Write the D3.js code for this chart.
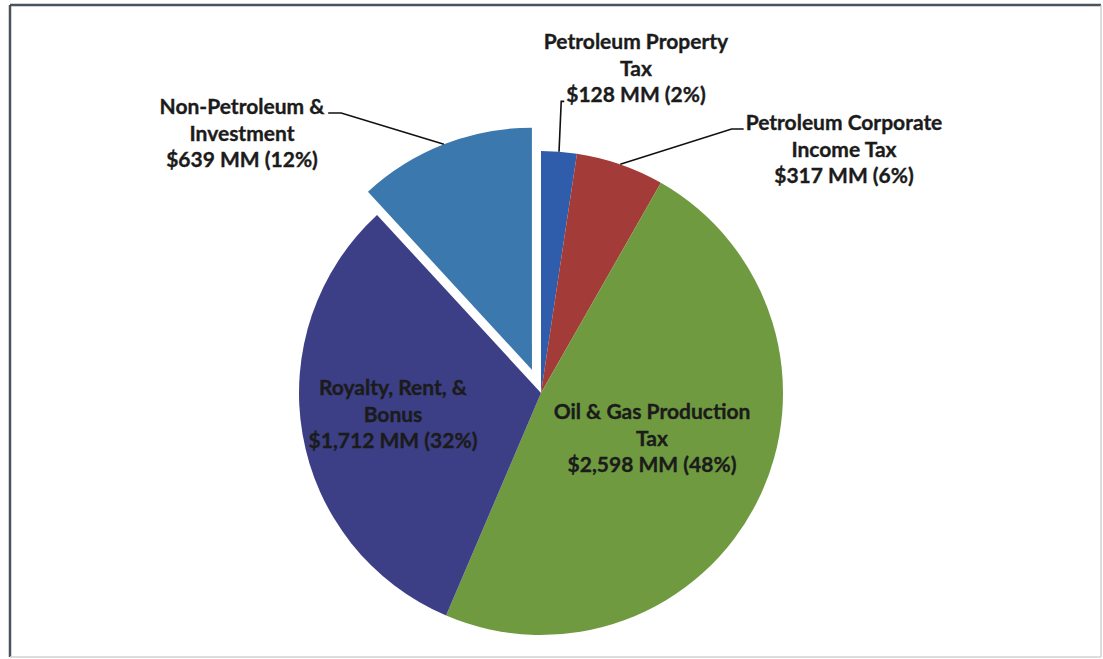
<!DOCTYPE html>
<html>
<head>
<meta charset="utf-8">
<script src="https://cdn.jsdelivr.net/npm/d3@7"></script>
<style>
  html, body { margin: 0; padding: 0; background: #fff; }
  svg { display: block; }
  text { font-family: "Lato", "Open Sans", sans-serif; font-weight: 700; fill: #1b1b1b;
         stroke: #1b1b1b; stroke-width: 0.35px; }
</style>
</head>
<body>
<svg id="chart" width="1103" height="659"></svg>
<script>
// Revenue sources, $ millions, clockwise from 12 o'clock
const categories = [
  "Petroleum Property Tax",
  "Petroleum Corporate Income Tax",
  "Oil & Gas Production Tax",
  "Royalty, Rent, & Bonus",
  "Non-Petroleum & Investment"
];
const nameLines = [
  ["Petroleum Property", "Tax"],
  ["Petroleum Corporate", "Income Tax"],
  ["Oil & Gas Production", "Tax"],
  ["Royalty, Rent, &", "Bonus"],
  ["Non-Petroleum &", "Investment"]
];
const values = [128, 317, 2598, 1712, 639];
const sliceColors = ["#2f5dab", "#a33b38", "#6f9a40", "#3c3f85", "#3a78ad"];
const explodedIndex = 4;

// label placement: centre x, first baseline y, leader side
const labelLayout = [
  { x: 636, y: 49, leader: { line: 2, side: "left", hook: 3 } },
  { x: 844, y: 130, leader: { line: 0, side: "left", hook: 12 } },
  { x: 652, y: 419, leader: null },
  { x: 393, y: 395, leader: null },
  { x: 242, y: 114, leader: { line: 0, side: "right", hook: 13 } }
];

const W = 1103, H = 659;
const cx = 541, cy = 393, R = 242, explode = 25;
const fontSize = 21, lineHeight = 26.7;

const svg = d3.select("#chart");

// frame
const frame = svg.append("g");
frame.append("line").attr("x1", 10).attr("y1", 5).attr("x2", 1101).attr("y2", 5)
  .attr("stroke", "#4a535b").attr("stroke-width", 2.5);
frame.append("line").attr("x1", 10).attr("y1", 5).attr("x2", 10).attr("y2", 657)
  .attr("stroke", "#4a535b").attr("stroke-width", 2.5);
frame.append("line").attr("x1", 1101).attr("y1", 5).attr("x2", 1101).attr("y2", 657)
  .attr("stroke", "#c4c7ca").attr("stroke-width", 1.2);
frame.append("line").attr("x1", 10).attr("y1", 657).attr("x2", 1101).attr("y2", 657)
  .attr("stroke", "#d0d2d4").attr("stroke-width", 1.5);

const total = d3.sum(values);
const pie = d3.pie().sort(null).value(d => d);
const arcs = pie(values);
const arc = d3.arc().innerRadius(0).outerRadius(R);

const mid = d => (d.startAngle + d.endAngle) / 2;
const offsetOf = (d, i) => {
  if (i !== explodedIndex) return [0, 0];
  const a = mid(d);
  return [explode * Math.sin(a), -explode * Math.cos(a)];
};

const g = svg.append("g").attr("transform", `translate(${cx},${cy})`);
g.selectAll("path.slice")
  .data(arcs)
  .join("path")
  .attr("class", "slice")
  .attr("d", arc)
  .attr("fill", (d, i) => sliceColors[i])
  .attr("transform", (d, i) => `translate(${offsetOf(d, i)})`);

const fmt = d3.format(",");
const labels = svg.append("g");
const leaders = svg.append("g");

arcs.forEach((d, i) => {
  const lay = labelLayout[i];
  const pct = Math.round(values[i] / total * 100);
  const lines = nameLines[i].concat([`$${fmt(values[i])} MM (${pct}%)`]);
  const t = labels.append("text")
    .attr("text-anchor", "middle")
    .attr("font-size", fontSize);
  const spans = lines.map((ln, k) =>
    t.append("tspan").attr("x", lay.x).attr("y", lay.y + k * lineHeight).text(ln));

  if (lay.leader) {
    const node = spans[lay.leader.line].node();
    const bb = node.getBBox();
    const by = lay.y + lay.leader.line * lineHeight - 1;
    const sx = lay.leader.side === "left" ? bb.x - 2 : bb.x + bb.width + 3;
    const ex = lay.leader.side === "left" ? sx - lay.leader.hook : sx + lay.leader.hook;
    const off = offsetOf(d, i);
    const a = mid(d);
    const px = cx + off[0] + R * Math.sin(a);
    const py = cy + off[1] - R * Math.cos(a);
    leaders.append("path")
      .attr("d", d3.line()([[sx, by], [ex, by], [px, py]]))
      .attr("fill", "none")
      .attr("stroke", "#111")
      .attr("stroke-width", 1.6);
  }
});
</script>
</body>
</html>
